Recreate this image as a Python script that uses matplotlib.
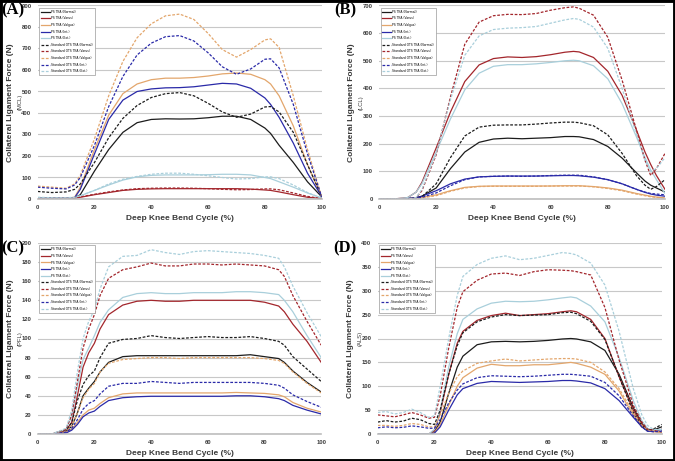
import matplotlib
matplotlib.use("Agg")
import matplotlib.pyplot as plt

# ---------------- data ----------------
LABELS = ["PS TKA (Normal)", "PS TKA (Varus)", "PS TKA (Valgus)", "PS TKA (Int.)", "PS TKA (Ext.)",
          "Standard OTS TKA (Normal)", "Standard OTS TKA (Varus)", "Standard OTS TKA (Valgus)",
          "Standard OTS TKA (Int.)", "Standard OTS TKA (Ext.)"]
COLORS = ["#1c1c1c", "#a3262c", "#e3a66c", "#2a2aa8", "#a9cfdb"]

# (A) MCL
A_X = [0, 5, 10, 13, 15, 20, 25, 30, 35, 40, 45, 50, 55, 60, 65, 70, 75, 80, 82, 85, 90, 95, 100]
A_PS_NORMAL = [5, 3, 3, 5, 20, 130, 230, 310, 355, 370, 373, 372, 373, 378, 385, 385, 370, 330, 305, 250, 170, 80, 10]
A_PS_VARUS = [2, 2, 2, 3, 8, 20, 30, 40, 45, 47, 48, 48, 48, 48, 48, 48, 46, 42, 40, 33, 20, 8, 2]
A_PS_VALGUS = [5, 4, 4, 8, 55, 230, 390, 490, 535, 555, 562, 562, 565, 572, 582, 586, 580, 555, 535, 480, 340, 160, 10]
A_PS_INT = [5, 4, 4, 6, 45, 210, 370, 460, 500, 512, 517, 518, 522, 530, 538, 535, 515, 470, 440, 380, 260, 120, 12]
A_PS_EXT = [5, 4, 4, 6, 15, 40, 65, 88, 103, 110, 112, 112, 112, 113, 115, 115, 112, 100, 95, 80, 55, 28, 5]
A_OTS_NORMAL = [35, 30, 33, 45, 70, 170, 285, 375, 435, 472, 490, 495, 480, 445, 405, 380, 395, 428, 430, 405, 310, 160, 12]
A_OTS_VARUS = [5, 5, 5, 6, 10, 22, 33, 42, 48, 50, 51, 51, 50, 48, 45, 43, 44, 47, 47, 43, 28, 12, 2]
A_OTS_VALGUS = [60, 55, 50, 70, 110, 280, 480, 640, 750, 815, 852, 860, 835, 770, 695, 660, 695, 740, 745, 705, 480, 230, 10]
A_OTS_INT = [55, 50, 47, 65, 100, 250, 430, 570, 670, 725, 755, 760, 735, 680, 615, 580, 605, 650, 652, 610, 440, 210, 10]
A_OTS_EXT = [8, 6, 6, 8, 15, 40, 70, 92, 105, 115, 120, 120, 115, 108, 100, 93, 95, 103, 103, 95, 65, 30, 3]

# (B) LCL
B_X = [0, 5, 10, 13, 15, 20, 25, 30, 35, 40, 45, 50, 55, 60, 65, 68, 70, 75, 80, 85, 90, 93, 95, 97, 100]
B_PS_NORMAL = [0, 0, 2, 5, 10, 40, 110, 170, 205, 217, 220, 218, 220, 222, 226, 226, 225, 215, 190, 148, 95, 65, 50, 40, 25]
B_PS_VARUS = [0, 0, 5, 25, 60, 185, 315, 425, 485, 508, 514, 512, 515, 522, 531, 534, 532, 512, 462, 375, 250, 170, 125, 85, 35]
B_PS_VALGUS = [0, 0, 1, 3, 5, 15, 30, 42, 46, 47, 47, 47, 47, 47, 48, 48, 48, 45, 40, 32, 20, 14, 10, 7, 4]
B_PS_INT = [0, 0, 2, 5, 10, 30, 55, 72, 80, 82, 83, 83, 83, 84, 85, 85, 84, 79, 70, 55, 35, 24, 18, 14, 10]
B_PS_EXT = [0, 0, 5, 25, 55, 170, 290, 395, 455, 480, 486, 486, 489, 494, 500, 502, 500, 482, 435, 345, 225, 150, 105, 70, 20]
B_OTS_NORMAL = [0, 0, 0, 3, 8, 55, 150, 228, 260, 267, 268, 268, 271, 275, 278, 278, 276, 265, 232, 165, 85, 50, 35, 45, 70]
B_OTS_VARUS = [0, 0, 0, 5, 30, 160, 370, 560, 640, 663, 668, 667, 671, 683, 692, 695, 690, 665, 585, 430, 250, 140, 85, 110, 165]
B_OTS_VALGUS = [0, 0, 0, 2, 4, 12, 28, 40, 45, 46, 46, 46, 46, 47, 47, 47, 47, 44, 38, 30, 18, 12, 8, 6, 4]
B_OTS_INT = [0, 0, 1, 3, 6, 22, 48, 70, 80, 82, 83, 82, 83, 85, 86, 86, 86, 80, 70, 55, 35, 25, 20, 18, 15]
B_OTS_EXT = [0, 0, 0, 5, 35, 165, 360, 520, 590, 613, 618, 620, 624, 636, 648, 653, 650, 622, 545, 400, 235, 140, 100, 110, 150]

# (C) PFL
C_X = [0, 5, 10, 12, 14, 16, 18, 20, 22, 25, 30, 35, 40, 45, 50, 55, 60, 65, 70, 75, 80, 85, 87, 90, 95, 100]
C_PS_NORMAL = [0, 0, 3, 8, 22, 40, 48, 55, 65, 75, 81, 82, 82, 82, 82, 82, 82, 82, 82, 83, 81, 79, 75, 66, 54, 44]
C_PS_VARUS = [0, 0, 4, 12, 40, 70, 85, 95, 110, 125, 135, 139, 140, 139, 139, 140, 140, 140, 140, 140, 138, 134, 128, 115, 97, 75]
C_PS_VALGUS = [0, 0, 2, 5, 12, 20, 25, 27, 32, 38, 42, 43, 43, 43, 43, 43, 43, 43, 43.5, 43, 42.5, 41, 39, 33, 27, 23]
C_PS_INT = [0, 0, 1, 4, 10, 18, 22, 24, 29, 35, 38, 39, 39.5, 39.5, 39.5, 39.5, 39.5, 39.5, 40, 40, 39, 37, 35, 30, 25, 21]
C_PS_EXT = [0, 0, 5, 18, 50, 78, 90, 103, 117, 130, 143, 147, 148, 147, 147, 148, 148, 148, 149, 149, 148, 146, 140, 128, 103, 80]
C_OTS_NORMAL = [0, 0, 4, 12, 35, 52, 61, 66, 80, 95, 99, 100, 103, 101, 100, 101, 102, 101, 101, 102, 100, 97, 93, 81, 68, 55]
C_OTS_VARUS = [0, 0, 5, 20, 55, 90, 110, 125, 145, 163, 172, 175, 179, 176, 176, 178, 178, 177, 178, 177, 176, 172, 165, 145, 118, 93]
C_OTS_VALGUS = [0, 0, 3, 8, 22, 38, 47, 53, 65, 74, 78, 79, 80, 80, 79, 80, 80, 80, 80, 80, 79, 77, 74, 65, 53, 43]
C_OTS_INT = [0, 0, 2, 6, 15, 26, 32, 35, 42, 50, 53, 53, 55, 54, 53, 54, 54, 54, 54, 54, 53, 51, 48, 41, 34, 28]
C_OTS_EXT = [0, 0, 6, 25, 65, 100, 118, 130, 152, 175, 186, 187, 193, 190, 188, 191, 192, 191, 190, 189, 187, 184, 175, 155, 127, 102]

# (D) ALS
D_X = [0, 3, 6, 9, 12, 15, 18, 20, 22, 25, 28, 30, 35, 40, 45, 50, 55, 60, 65, 68, 70, 75, 80, 85, 90, 93, 95, 97, 100]
D_PS_NORMAL = [0, 0, 0, 0, 0, 0, 0, 5, 25, 85, 140, 163, 187, 193, 194, 193, 194, 196, 199, 200, 199, 193, 175, 125, 55, 22, 10, 8, 15]
D_PS_VARUS = [0, 0, 0, 0, 0, 0, 0, 8, 45, 125, 190, 215, 238, 248, 253, 248, 250, 252, 256, 258, 256, 240, 200, 120, 50, 20, 8, 5, 10]
D_PS_VALGUS = [0, 0, 0, 0, 0, 0, 0, 3, 20, 60, 100, 118, 138, 146, 143, 143, 145, 145, 148, 150, 148, 140, 125, 90, 40, 15, 8, 5, 3]
D_PS_INT = [0, 0, 0, 0, 0, 0, 0, 2, 15, 50, 82, 95, 106, 110, 109, 108, 109, 110, 112, 112, 111, 107, 95, 70, 35, 15, 6, 5, 8]
D_PS_EXT = [0, 0, 0, 0, 0, 0, 0, 10, 50, 140, 210, 240, 262, 274, 278, 277, 278, 281, 285, 287, 285, 268, 235, 160, 70, 28, 12, 8, 10]
D_OTS_NORMAL = [25, 28, 25, 27, 33, 30, 22, 20, 50, 125, 185, 212, 235, 245, 250, 248, 249, 250, 254, 255, 252, 236, 198, 120, 45, 18, 8, 10, 20]
D_OTS_VARUS = [40, 38, 36, 40, 45, 40, 33, 35, 80, 180, 265, 298, 322, 335, 337, 332, 340, 344, 343, 342, 340, 333, 265, 155, 60, 25, 10, 8, 5]
D_OTS_VALGUS = [18, 18, 16, 18, 22, 20, 15, 15, 40, 85, 120, 132, 148, 153, 157, 153, 155, 157, 158, 158, 157, 150, 130, 95, 45, 18, 8, 6, 5]
D_OTS_INT = [13, 15, 13, 14, 17, 15, 12, 12, 30, 65, 92, 105, 118, 122, 121, 120, 121, 123, 125, 125, 124, 121, 108, 80, 38, 15, 6, 5, 5]
D_OTS_EXT = [45, 47, 42, 45, 52, 45, 35, 38, 100, 200, 290, 330, 355, 368, 373, 365, 368, 374, 380, 378, 375, 358, 312, 215, 95, 40, 18, 10, 8]

FONT = "Liberation Sans"
TXT = "#3a3a3a"


def draw_panel(rect, letter, letter_x, lig, x, ps, ots, ymax, ystep):
    ax = fig.add_axes(rect)
    for i in range(5):
        ax.plot(x, ps[i], color=COLORS[i], lw=0.9, label=LABELS[i])
    for i in range(5):
        ax.plot(x, ots[i], color=COLORS[i], lw=0.9, ls=(0, (2.2, 1.3)), label=LABELS[5 + i])
    ax.set_xlim(0, 100)
    ax.set_ylim(0, ymax)
    ax.set_xticks(range(0, 101, 20))
    ax.set_yticks(range(0, ymax + 1, ystep))
    ax.grid(axis="y", color="#c8c8c8", lw=0.8)
    ax.set_axisbelow(True)
    for s in ["left", "top", "right"]:
        ax.spines[s].set_visible(False)
    ax.spines["bottom"].set_color("#bdbdbd")
    ax.spines["bottom"].set_linewidth(1.2)
    ax.tick_params(length=0, labelsize=4.2, colors=TXT, pad=4.5)
    for t in ax.get_xticklabels() + ax.get_yticklabels():
        t.set_fontweight("bold")
        t.set_fontfamily(FONT)
    ax.set_xlabel("Deep Knee Bend Cycle (%)", fontsize=6, fontweight="bold",
                  color=TXT, family=FONT, labelpad=3.5)
    leg = ax.legend(loc="upper left", bbox_to_anchor=(0.0, 0.995), fontsize=2.2,
                    handlelength=2.8, labelspacing=0.85, borderpad=0.6,
                    handletextpad=0.5, fancybox=False, framealpha=1)
    leg.get_frame().set_edgecolor("#9a9a9a")
    leg.get_frame().set_linewidth(0.5)
    ymid = rect[1] + rect[3] / 2
    fig.text(rect[0] - 27 / 675, ymid, "Collateral Ligament Force (N)", rotation=90,
             ha="center", va="center", fontsize=6, fontweight="bold", color=TXT, family=FONT)
    fig.text(rect[0] - 18 / 675, ymid, "(" + lig + ")", rotation=90,
             ha="center", va="center", fontsize=4.2, color=TXT, family=FONT)
    fig.text(letter_x / 675, rect[1] + rect[3] + 3 / 461, "(" + letter + ")",
             ha="left", va="top", fontsize=12, fontweight="bold", family="Liberation Serif")
    return ax


fig = plt.figure(figsize=(6.75, 4.61), dpi=100)
fig.patch.set_facecolor("white")

H_TOP = (199 - 5.5) / 461
H_BOT = (434 - 243) / 461
draw_panel([37.7 / 675, (461 - 199) / 461, 284 / 675, H_TOP], "A", 1.5, "MCL", A_X,
           [A_PS_NORMAL, A_PS_VARUS, A_PS_VALGUS, A_PS_INT, A_PS_EXT],
           [A_OTS_NORMAL, A_OTS_VARUS, A_OTS_VALGUS, A_OTS_INT, A_OTS_EXT], 900, 100)
draw_panel([379 / 675, (461 - 199) / 461, 286 / 675, H_TOP], "B", 334, "LCL", B_X,
           [B_PS_NORMAL, B_PS_VARUS, B_PS_VALGUS, B_PS_INT, B_PS_EXT],
           [B_OTS_NORMAL, B_OTS_VARUS, B_OTS_VALGUS, B_OTS_INT, B_OTS_EXT], 700, 100)
draw_panel([37.7 / 675, (461 - 434) / 461, 283.5 / 675, H_BOT], "C", 1.5, "PFL", C_X,
           [C_PS_NORMAL, C_PS_VARUS, C_PS_VALGUS, C_PS_INT, C_PS_EXT],
           [C_OTS_NORMAL, C_OTS_VARUS, C_OTS_VALGUS, C_OTS_INT, C_OTS_EXT], 200, 20)
draw_panel([377.7 / 675, (461 - 434) / 461, 284 / 675, H_BOT], "D", 333, "ALS", D_X,
           [D_PS_NORMAL, D_PS_VARUS, D_PS_VALGUS, D_PS_INT, D_PS_EXT],
           [D_OTS_NORMAL, D_OTS_VARUS, D_OTS_VALGUS, D_OTS_INT, D_OTS_EXT], 400, 50)

# black frame round the whole figure
fig.add_artist(plt.Rectangle((0, 0), 1, 1, transform=fig.transFigure, fill=False,
                             edgecolor="black", lw=3.5))

fig.savefig("out.png", dpi=100)
